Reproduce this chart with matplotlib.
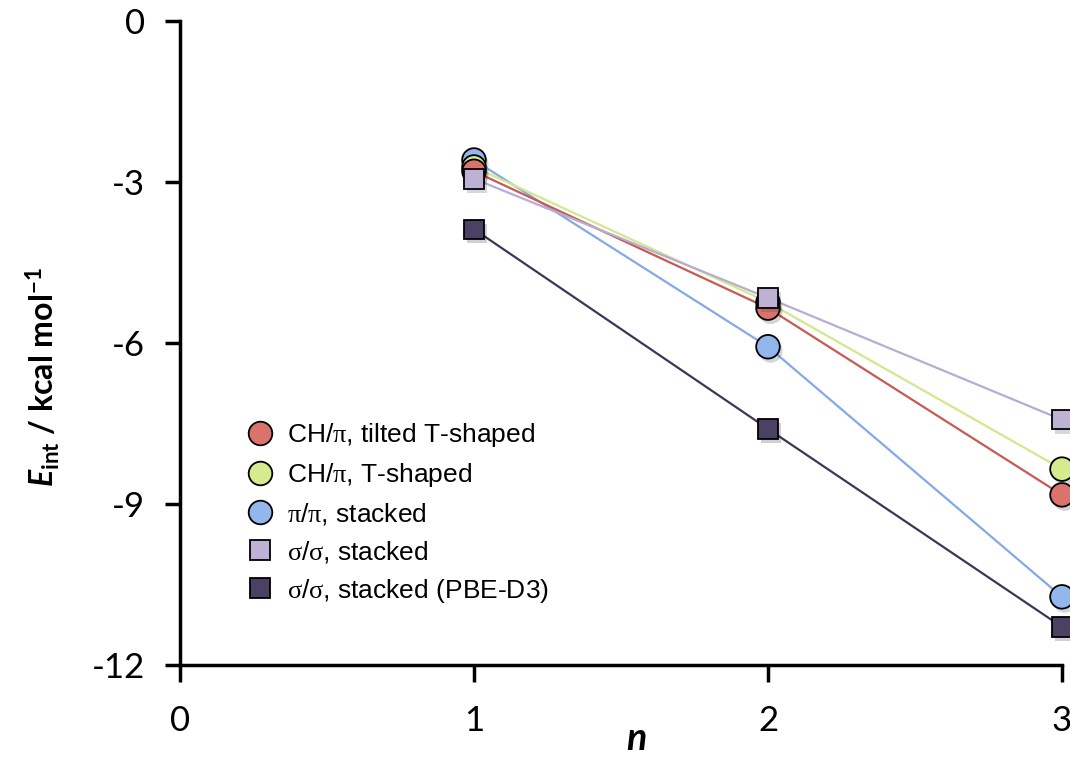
import matplotlib
matplotlib.use('Agg')
import matplotlib.pyplot as plt
import matplotlib.patheffects as pe
from matplotlib.lines import Line2D
from matplotlib.font_manager import FontProperties

# interaction energy vs n
n = [1, 2, 3]
ch_pi_tilted = [-2.80, -5.35, -8.83]
ch_pi_t = [-2.72, -5.24, -8.35]
pi_pi = [-2.59, -6.07, -10.73]
sigma_sigma = [-2.94, -5.16, -7.43]
sigma_sigma_d3 = [-3.88, -7.60, -11.29]

labels = [r'CH/$\mathrm{\pi}$, tilted T-shaped',
          r'CH/$\mathrm{\pi}$, T-shaped',
          r'$\mathrm{\pi}$/$\mathrm{\pi}$, stacked',
          r'$\mathrm{\sigma}$/$\mathrm{\sigma}$, stacked',
          r'$\mathrm{\sigma}$/$\mathrm{\sigma}$, stacked (PBE-D3)']
yticks = [0, -3, -6, -9, -12]
xticks = [0, 1, 2, 3]

plt.rcParams['axes.unicode_minus'] = False
plt.rcParams['mathtext.fontset'] = 'custom'
plt.rcParams['mathtext.rm'] = 'Liberation Serif'
plt.rcParams['mathtext.bf'] = 'Lato:bold'
plt.rcParams['mathtext.bfit'] = 'Lato:bold:italic'
plt.rcParams['mathtext.it'] = 'Lato:italic'

# (data, marker, marker size, fill, line colour), in legend order
series = [
    (ch_pi_tilted, 'o', 17, '#d9736c', '#c85a52'),
    (ch_pi_t, 'o', 17, '#d6ea8e', '#d3e88a'),
    (pi_pi, 'o', 17, '#93b6ec', '#84a9e8'),
    (sigma_sigma, 's', 14, '#bdb1d6', '#b8acd2'),
    (sigma_sigma_d3, 's', 14, '#4b4164', '#3f3656'),
]
draw_order = [2, 1, 0, 3, 4]

fig = plt.figure(figsize=(10.7, 7.57), dpi=100)
ax = fig.add_axes([180 / 1070, 1 - 665 / 757, 882 / 1070, 644 / 757])

shadow = [pe.SimplePatchShadow(offset=(2, -3), alpha=0.2), pe.Normal()]
for k, i in enumerate(draw_order):
    y, m, ms, fc, lc = series[i]
    ax.plot(n, y, color=lc, lw=1.6, zorder=2)
for k, i in enumerate(draw_order):
    y, m, ms, fc, lc = series[i]
    ax.plot(n, y, ls='none', marker=m, ms=ms, mfc=fc, mec='black', mew=1.3,
            clip_on=False, zorder=3 + k, path_effects=shadow)

handles = [Line2D([], [], ls='none', marker=m, ms=ms, mfc=fc, mec='black', mew=1.3)
           for (y, m, ms, fc, lc) in series]
ax.legend(handles, labels, loc='upper left', bbox_to_anchor=(0.067, 0.395),
          frameon=False, prop=FontProperties(family='Liberation Sans', size=19),
          handlelength=0.8, handletextpad=0.6, labelspacing=0.45, borderaxespad=0)

ax.set_xlim(0, 3)
ax.set_ylim(-12, 0)
ax.set_xticks(xticks)
ax.set_yticks(yticks)
for side in ['top', 'right']:
    ax.spines[side].set_visible(False)
for side in ['left', 'bottom']:
    ax.spines[side].set_linewidth(2.5)
ax.tick_params(axis='y', direction='out', length=11, width=2.5, pad=14)
ax.tick_params(axis='x', direction='out', length=12, width=2.5, pad=17)
for lab in ax.get_xticklabels() + ax.get_yticklabels():
    lab.set_fontfamily('Lato')
    lab.set_fontsize(25)

ax.set_xlabel('n', fontfamily='Lato', fontsize=27, fontweight='bold', style='italic')
ax.xaxis.set_label_coords(0.517, -0.114)
ax.xaxis.label.set_va('center')
ax.set_ylabel(r'$\mathbfit{E}_{\mathbf{int}}$ / kcal mol$^{\mathbf{-1}}$',
              fontfamily='Lato', fontsize=23, fontweight='bold')
ax.yaxis.set_label_coords(-0.155, 0.447)
ax.yaxis.label.set_va('center')

fig.savefig('out.png', dpi=100)
